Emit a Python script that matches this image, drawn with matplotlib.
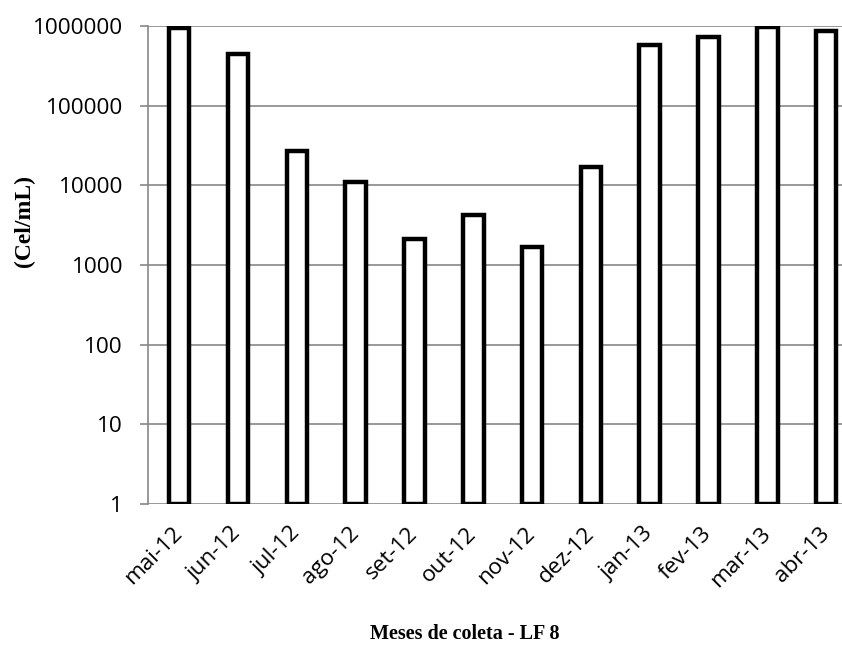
import matplotlib.pyplot as plt
import numpy as np

meses = ['mai-12', 'jun-12', 'jul-12', 'ago-12', 'set-12', 'out-12',
         'nov-12', 'dez-12', 'jan-13', 'fev-13', 'mar-13', 'abr-13']
celulas = [950000, 440000, 27000, 11000, 2100, 4300,
           1700, 17000, 570000, 720000, 980000, 870000]
yticks = [1, 10, 100, 1000, 10000, 100000, 1000000]

fig = plt.figure(figsize=(8.42, 6.48), dpi=100)
ax = fig.add_axes([148/842, 1-504/648, 1-148/842, (504-26)/648])

x = np.arange(len(meses))
bottoms = np.ones(len(meses))
ax.bar(x, np.array(celulas) - bottoms, bottom=bottoms, width=0.35,
       color='white', edgecolor='black', linewidth=3.2, zorder=3)

ax.set_yscale('log')
ax.set_ylim(1, 1000000)
ax.set_xlim(-0.53, 11.27)
ax.set_yticks(yticks)
ax.set_yticklabels([str(v) for v in yticks], fontsize=16.2, family='Open Sans')
ax.minorticks_off()
ax.yaxis.grid(True, color='#888888', linewidth=1.2, zorder=0)

ax.set_xticks(x)
ax.set_xticklabels(meses, rotation=45, ha='right', va='center',
                   rotation_mode='anchor', fontsize=16.2, family='Open Sans')
ax.tick_params(axis='x', length=0, pad=19)
ax.tick_params(axis='y', length=6, color='#888888', width=1.2, pad=12)

for s in ['top', 'right', 'bottom']:
    ax.spines[s].set_visible(False)
ax.spines['left'].set_color('#888888')
ax.spines['left'].set_linewidth(1.2)

fig.text(24/842, 1-221/648, '(Cel/mL)', rotation=90, ha='center', va='center',
         fontsize=17, fontweight='bold', family='Liberation Serif')
fig.text(465/842, 1-634/648, 'Meses de coleta - LF 8', ha='center', va='center',
         fontsize=14.5, fontweight='bold', family='Liberation Serif')

plt.savefig('out.png', dpi=100)
